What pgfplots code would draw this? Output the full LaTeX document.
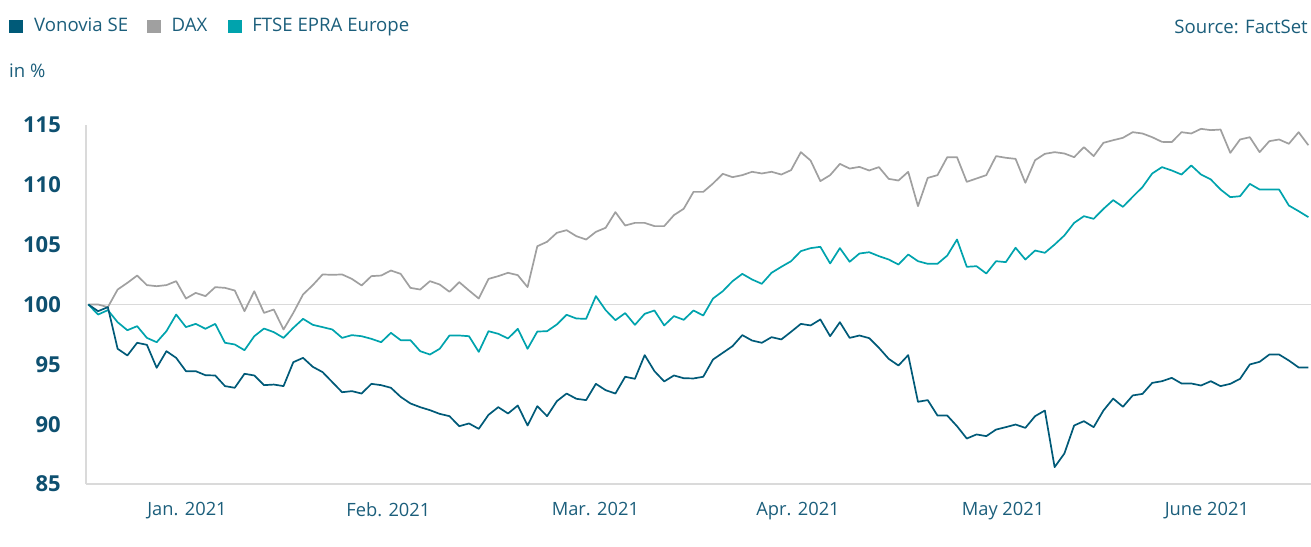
\documentclass[border=0pt]{standalone}
\usepackage{pgfplots}
\pgfplotsset{compat=1.18}
\usepackage{pgfplotstable}
\usepackage{fontspec}
\setmainfont{Open Sans}
\definecolor{vonovia}{HTML}{005A78}
\definecolor{dax}{HTML}{A0A0A0}
\definecolor{ftse}{HTML}{00A3AD}
\definecolor{txt}{HTML}{1B5E7B}
\definecolor{ytxt}{HTML}{0E5070}
\definecolor{axgray}{HTML}{DADADA}

\pgfplotstableread{
k V D F
0 100 100 100
1 99.44 100.00 99.16
2 99.78 99.78 99.53
3 96.30 101.25 98.52
4 95.74 101.81 97.85
5 96.80 102.42 98.19
6 96.63 101.62 97.21
7 94.71 101.53 96.85
8 96.10 101.62 97.77
9 95.54 101.95 99.16
10 94.43 100.50 98.11
11 94.43 100.97 98.38
12 94.09 100.70 97.97
13 94.07 101.45 98.38
14 93.18 101.39 96.80
15 93.04 101.17 96.66
16 94.21 99.44 96.18
17 94.07 101.11 97.35
18 93.26 99.30 97.99
19 93.31 99.58 97.69
20 93.18 97.91 97.21
21 95.18 99.30 98.05
22 95.54 100.84 98.80
23 94.79 101.62 98.30
24 94.35 102.51 98.11
25 93.51 102.48 97.91
26 92.67 102.51 97.21
27 92.76 102.14 97.44
28 92.56 101.59 97.35
29 93.37 102.37 97.13
30 93.26 102.42 96.85
31 93.04 102.84 97.63
32 92.28 102.56 97.02
33 91.73 101.39 97.02
34 91.42 101.25 96.10
35 91.17 101.95 95.82
36 90.86 101.67 96.30
37 90.67 101.06 97.41
38 89.83 101.87 97.41
39 90.06 101.17 97.35
40 89.61 100.50 96.04
41 90.78 102.14 97.77
42 91.42 102.37 97.55
43 90.89 102.65 97.16
44 91.56 102.45 97.97
45 89.89 101.45 96.30
46 91.50 104.87 97.74
47 90.67 105.24 97.77
48 91.92 105.99 98.33
49 92.56 106.21 99.14
50 92.12 105.71 98.83
51 92.01 105.43 98.80
52 93.37 106.07 100.70
53 92.84 106.41 99.53
54 92.56 107.72 98.69
55 93.96 106.60 99.28
56 93.79 106.82 98.30
57 95.77 106.82 99.22
58 94.43 106.55 99.50
59 93.57 106.55 98.25
60 94.07 107.47 99.03
61 93.84 108.00 98.72
62 93.82 109.41 99.50
63 93.96 109.41 99.08
64 95.40 110.11 100.50
65 95.96 110.92 101.11
66 96.52 110.64 101.95
67 97.44 110.81 102.56
68 96.99 111.09 102.09
69 96.80 110.95 101.73
70 97.27 111.09 102.65
71 97.08 110.86 103.15
72 97.72 111.23 103.62
73 98.38 112.73 104.46
74 98.25 112.03 104.71
75 98.75 110.31 104.82
76 97.35 110.81 103.43
77 98.52 111.75 104.71
78 97.21 111.36 103.57
79 97.41 111.50 104.26
80 97.19 111.20 104.37
81 96.38 111.48 104.04
82 95.46 110.50 103.76
83 94.90 110.36 103.34
84 95.77 111.09 104.18
85 91.87 108.22 103.62
86 92.01 110.58 103.40
87 90.72 110.81 103.40
88 90.72 112.31 104.09
89 89.83 112.31 105.43
90 88.80 110.25 103.15
91 89.14 110.53 103.20
92 89.00 110.81 102.59
93 89.55 112.40 103.62
94 89.75 112.26 103.54
95 89.97 112.17 104.74
96 89.69 110.17 103.76
97 90.67 112.06 104.51
98 91.14 112.59 104.32
99 86.41 112.73 105.01
100 87.55 112.62 105.77
101 89.89 112.31 106.82
102 90.25 113.15 107.38
103 89.75 112.40 107.16
104 91.14 113.51 107.99
105 92.14 113.73 108.72
106 91.45 113.93 108.16
107 92.40 114.40 109.00
108 92.53 114.29 109.81
109 93.45 113.98 110.95
110 93.59 113.59 111.48
111 93.87 113.57 111.20
112 93.40 114.40 110.86
113 93.40 114.29 111.62
114 93.23 114.68 110.86
115 93.59 114.57 110.45
116 93.18 114.62 109.61
117 93.37 112.67 108.97
118 93.79 113.79 109.05
119 94.99 113.98 110.08
120 95.21 112.73 109.61
121 95.82 113.65 109.61
122 95.82 113.79 109.61
123 95.32 113.43 108.27
124 94.74 114.40 107.80
125 94.74 113.31 107.30
}\datatable

\begin{document}
\begin{tikzpicture}
\useasboundingbox (0bp,0bp) rectangle (1311bp,547bp);
\begin{axis}[
  at={(86bp,63bp)}, anchor=south west,
  width=1225bp, height=359bp, scale only axis,
  xmin=-0.24, xmax=125.27, ymin=85, ymax=115,
  axis x line*=bottom, axis y line*=left,
  axis line style={-, draw=axgray, line width=1.6bp},
  major tick length=0pt,
  xtick={10.11,30.74,51.95,72.71,93.72,114.6},
  xticklabels={Jan. 2021,Feb. 2021,Mar. 2021,Apr. 2021,May 2021,June 2021},
  ytick={85,90,...,115},
  extra y ticks={100},
  extra y tick labels={},
  extra y tick style={grid=major, major grid style={draw=axgray, line width=1.4bp}},
  /pgf/number format/assume math mode=true,
  xticklabel style={font=\fontsize{18.3bp}{20bp}\selectfont, text=txt, inner sep=0pt, anchor=north, yshift=-18.5bp},
  yticklabel style={font=\fontsize{22bp}{24bp}\selectfont\bfseries, text=ytxt, inner sep=0pt, anchor=east, xshift=-25bp},
  clip=false,
  every axis plot/.append style={line width=1.7bp, line join=round, no markers},
]
\addplot[dax] table[x=k, y=D] {\datatable};
\addplot[ftse] table[x=k, y=F] {\datatable};
\addplot[vonovia] table[x=k, y=V] {\datatable};
\end{axis}
\node[anchor=west, inner sep=0pt, text=txt, font=\fontsize{18.6bp}{20bp}\selectfont] at (9bp,520bp)
  {\textcolor{vonovia}{\rule[-1.5bp]{13.5bp}{13.5bp}}\hspace{11.5bp}Vonovia SE\hspace{19bp}\textcolor{dax}{\rule[-1.5bp]{13.5bp}{13.5bp}}\hspace{11bp}DAX\hspace{21bp}\textcolor{ftse}{\rule[-1.5bp]{13.5bp}{13.5bp}}\hspace{10.5bp}FTSE EPRA Europe};
\node[anchor=east, inner sep=0pt, text=txt, font=\fontsize{18.6bp}{20bp}\selectfont] at (1308bp,520bp) {Source: FactSet};
\node[anchor=west, inner sep=0pt, text=txt, font=\fontsize{18.6bp}{20bp}\selectfont] at (9bp,476.5bp) {in \%};
\end{tikzpicture}
\end{document}
